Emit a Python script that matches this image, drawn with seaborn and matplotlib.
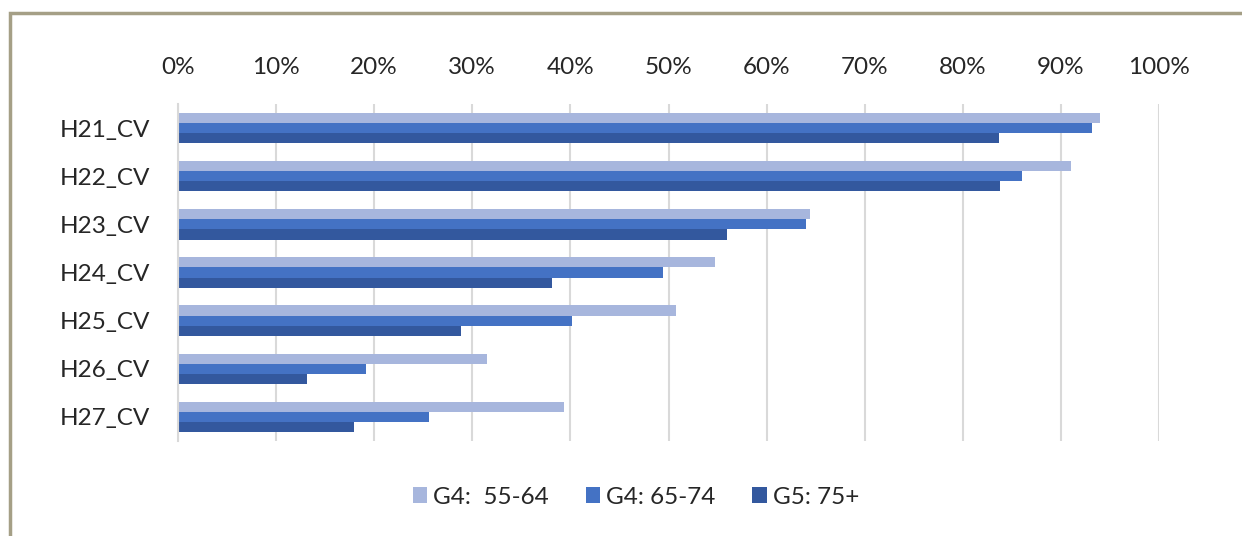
import matplotlib
matplotlib.use("Agg")
import matplotlib.pyplot as plt
from matplotlib.patches import Rectangle
import pandas as pd
import seaborn as sns

categories = ["H21_CV", "H22_CV", "H23_CV", "H24_CV", "H25_CV", "H26_CV", "H27_CV"]
series_names = ["G4:  55-64", "G4: 65-74", "G5: 75+"]
g4_55_64 = [94.0, 91.0, 64.4, 54.7, 50.8, 31.5, 39.3]
g4_65_74 = [93.2, 86.0, 64.0, 49.4, 40.2, 19.2, 25.6]
g5_75 = [83.7, 83.8, 56.0, 38.1, 28.8, 13.2, 17.9]
tick_values = [0, 10, 20, 30, 40, 50, 60, 70, 80, 90, 100]
tick_labels = [f"{v}%" for v in tick_values]
colors = ["#A7B6DD", "#4472C4", "#33589E"]

rows = []
for name, vals in zip(series_names, [g4_55_64, g4_65_74, g5_75]):
    for cat, v in zip(categories, vals):
        rows.append({"category": cat, "group": name, "value": v})
df = pd.DataFrame(rows)

sns.set_theme(style="white")
plt.rcParams["font.family"] = ["Lato", "DejaVu Sans"]

fig = plt.figure(figsize=(12.42, 5.36), dpi=100)
ax = fig.add_axes([178 / 1242, 1 - 441 / 536, (1159 - 178) / 1242, 337 / 536])

sns.barplot(data=df, x="value", y="category", hue="group", order=categories,
            hue_order=series_names, palette=colors, orient="h", width=0.63,
            gap=0, saturation=1, ax=ax, legend=True, linewidth=0)

ax.set_xlim(0, 100)
ax.set_xticks(tick_values)
ax.set_xticklabels(tick_labels)
ax.xaxis.tick_top()
ax.tick_params(axis="x", length=0, pad=19, labelsize=17.5, colors="#262626")
ax.tick_params(axis="y", length=0, pad=20, labelsize=17.5, colors="#262626")
ax.set_xlabel("")
ax.set_ylabel("")
ax.grid(axis="x", color="#D9D9D9", linewidth=1.5)
ax.set_axisbelow(True)
for side in ["top", "right", "bottom"]:
    ax.spines[side].set_visible(False)
ax.spines["left"].set_color("#D9D9D9")
ax.spines["left"].set_linewidth(1.5)

handles, labels = ax.get_legend_handles_labels()
ax.get_legend().remove()
fig.legend(handles, labels, loc="center", bbox_to_anchor=(636 / 1242, 1 - 497 / 536),
           ncol=3, frameon=False, fontsize=17.5, handlelength=0.6, handleheight=0.6,
           handletextpad=0.25, columnspacing=1.5, labelcolor="#262626")

# thin frame along the top and left edges
fig.patches.append(Rectangle((10 / 1242, -0.1), 1.2, 1 - 13 / 536 + 0.1,
                             transform=fig.transFigure, fill=False,
                             edgecolor="#A59F86", linewidth=2.5))

fig.savefig("out.png", dpi=100)
